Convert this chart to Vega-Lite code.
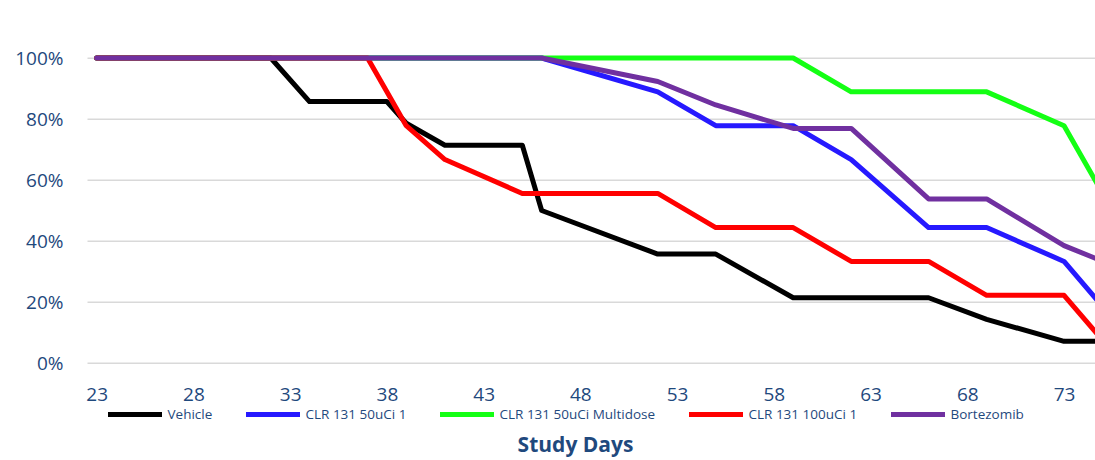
{
  "$schema": "https://vega.github.io/schema/vega-lite/v6.json",
  "width": 1008,
  "height": 320.25,
  "autosize": {"type": "none"},
  "padding": {"left": 87, "top": 42.75, "right": 0, "bottom": 96.75},
  "background": "white",
  "config": {"view": {"stroke": null}, "font": "Open Sans"},
  "data": {
    "values": [
      {"group": "Vehicle", "day": 23, "survival": 1},
      {"group": "Vehicle", "day": 32, "survival": 1},
      {"group": "Vehicle", "day": 34, "survival": 0.857},
      {"group": "Vehicle", "day": 37, "survival": 0.857},
      {"group": "Vehicle", "day": 38, "survival": 0.857},
      {"group": "Vehicle", "day": 39, "survival": 0.786},
      {"group": "Vehicle", "day": 41, "survival": 0.714},
      {"group": "Vehicle", "day": 45, "survival": 0.714},
      {"group": "Vehicle", "day": 46, "survival": 0.5},
      {"group": "Vehicle", "day": 52, "survival": 0.357},
      {"group": "Vehicle", "day": 55, "survival": 0.357},
      {"group": "Vehicle", "day": 59, "survival": 0.214},
      {"group": "Vehicle", "day": 62, "survival": 0.214},
      {"group": "Vehicle", "day": 66, "survival": 0.214},
      {"group": "Vehicle", "day": 69, "survival": 0.143},
      {"group": "Vehicle", "day": 73, "survival": 0.071},
      {"group": "Vehicle", "day": 76, "survival": 0.071},

      {"group": "CLR 131 50uCi 1", "day": 23, "survival": 1},
      {"group": "CLR 131 50uCi 1", "day": 32, "survival": 1},
      {"group": "CLR 131 50uCi 1", "day": 34, "survival": 1},
      {"group": "CLR 131 50uCi 1", "day": 37, "survival": 1},
      {"group": "CLR 131 50uCi 1", "day": 38, "survival": 1},
      {"group": "CLR 131 50uCi 1", "day": 39, "survival": 1},
      {"group": "CLR 131 50uCi 1", "day": 41, "survival": 1},
      {"group": "CLR 131 50uCi 1", "day": 45, "survival": 1},
      {"group": "CLR 131 50uCi 1", "day": 46, "survival": 1},
      {"group": "CLR 131 50uCi 1", "day": 52, "survival": 0.889},
      {"group": "CLR 131 50uCi 1", "day": 55, "survival": 0.778},
      {"group": "CLR 131 50uCi 1", "day": 59, "survival": 0.778},
      {"group": "CLR 131 50uCi 1", "day": 62, "survival": 0.667},
      {"group": "CLR 131 50uCi 1", "day": 66, "survival": 0.444},
      {"group": "CLR 131 50uCi 1", "day": 69, "survival": 0.444},
      {"group": "CLR 131 50uCi 1", "day": 73, "survival": 0.333},
      {"group": "CLR 131 50uCi 1", "day": 76, "survival": 0.111},

      {"group": "CLR 131 50uCi Multidose", "day": 23, "survival": 1},
      {"group": "CLR 131 50uCi Multidose", "day": 32, "survival": 1},
      {"group": "CLR 131 50uCi Multidose", "day": 34, "survival": 1},
      {"group": "CLR 131 50uCi Multidose", "day": 37, "survival": 1},
      {"group": "CLR 131 50uCi Multidose", "day": 38, "survival": 1},
      {"group": "CLR 131 50uCi Multidose", "day": 39, "survival": 1},
      {"group": "CLR 131 50uCi Multidose", "day": 41, "survival": 1},
      {"group": "CLR 131 50uCi Multidose", "day": 45, "survival": 1},
      {"group": "CLR 131 50uCi Multidose", "day": 46, "survival": 1},
      {"group": "CLR 131 50uCi Multidose", "day": 52, "survival": 1},
      {"group": "CLR 131 50uCi Multidose", "day": 55, "survival": 1},
      {"group": "CLR 131 50uCi Multidose", "day": 59, "survival": 1},
      {"group": "CLR 131 50uCi Multidose", "day": 62, "survival": 0.889},
      {"group": "CLR 131 50uCi Multidose", "day": 66, "survival": 0.889},
      {"group": "CLR 131 50uCi Multidose", "day": 69, "survival": 0.889},
      {"group": "CLR 131 50uCi Multidose", "day": 73, "survival": 0.778},
      {"group": "CLR 131 50uCi Multidose", "day": 76, "survival": 0.444},

      {"group": "CLR 131 100uCi 1", "day": 23, "survival": 1},
      {"group": "CLR 131 100uCi 1", "day": 32, "survival": 1},
      {"group": "CLR 131 100uCi 1", "day": 34, "survival": 1},
      {"group": "CLR 131 100uCi 1", "day": 37, "survival": 1},
      {"group": "CLR 131 100uCi 1", "day": 38, "survival": 0.889},
      {"group": "CLR 131 100uCi 1", "day": 39, "survival": 0.778},
      {"group": "CLR 131 100uCi 1", "day": 41, "survival": 0.667},
      {"group": "CLR 131 100uCi 1", "day": 45, "survival": 0.556},
      {"group": "CLR 131 100uCi 1", "day": 46, "survival": 0.556},
      {"group": "CLR 131 100uCi 1", "day": 52, "survival": 0.556},
      {"group": "CLR 131 100uCi 1", "day": 55, "survival": 0.444},
      {"group": "CLR 131 100uCi 1", "day": 59, "survival": 0.444},
      {"group": "CLR 131 100uCi 1", "day": 62, "survival": 0.333},
      {"group": "CLR 131 100uCi 1", "day": 66, "survival": 0.333},
      {"group": "CLR 131 100uCi 1", "day": 69, "survival": 0.222},
      {"group": "CLR 131 100uCi 1", "day": 73, "survival": 0.222},
      {"group": "CLR 131 100uCi 1", "day": 76, "survival": 0},

      {"group": "Bortezomib", "day": 23, "survival": 1},
      {"group": "Bortezomib", "day": 32, "survival": 1},
      {"group": "Bortezomib", "day": 34, "survival": 1},
      {"group": "Bortezomib", "day": 37, "survival": 1},
      {"group": "Bortezomib", "day": 38, "survival": 1},
      {"group": "Bortezomib", "day": 39, "survival": 1},
      {"group": "Bortezomib", "day": 41, "survival": 1},
      {"group": "Bortezomib", "day": 45, "survival": 1},
      {"group": "Bortezomib", "day": 46, "survival": 1},
      {"group": "Bortezomib", "day": 52, "survival": 0.923},
      {"group": "Bortezomib", "day": 55, "survival": 0.846},
      {"group": "Bortezomib", "day": 59, "survival": 0.769},
      {"group": "Bortezomib", "day": 62, "survival": 0.769},
      {"group": "Bortezomib", "day": 66, "survival": 0.538},
      {"group": "Bortezomib", "day": 69, "survival": 0.538},
      {"group": "Bortezomib", "day": 73, "survival": 0.385},
      {"group": "Bortezomib", "day": 76, "survival": 0.308}
    ]
  },
  "mark": {"type": "line", "strokeWidth": 5, "strokeCap": "round", "strokeJoin": "round", "clip": true},
  "encoding": {
    "x": {
      "field": "day",
      "type": "quantitative",
      "scale": {"domain": [22.5, 74.6], "nice": false, "zero": false},
      "axis": {
        "values": [23, 28, 33, 38, 43, 48, 53, 58, 63, 68, 73],
        "grid": false,
        "ticks": false,
        "domain": false,
        "labelPadding": 22,
        "labelFontSize": 19,
        "labelColor": "#1F497D",
        "title": "Study Days",
        "titleFontSize": 21,
        "titleFontWeight": "bold",
        "titleColor": "#1F497D",
        "titleX": 488,
        "titleY": 88,
        "titleAlign": "center",
        "titleBaseline": "alphabetic"
      }
    },
    "y": {
      "field": "survival",
      "type": "quantitative",
      "scale": {"domain": [0, 1.05], "nice": false},
      "axis": {
        "values": [0, 0.2, 0.4, 0.6, 0.8, 1],
        "format": ".0%",
        "title": null,
        "domain": false,
        "ticks": false,
        "labelPadding": 24,
        "labelFontSize": 19,
        "labelColor": "#1F497D",
        "gridColor": "#D9D9D9",
        "gridWidth": 1.5
      }
    },
    "color": {
      "field": "group",
      "type": "nominal",
      "scale": {
        "domain": ["Vehicle", "CLR 131 50uCi 1", "CLR 131 50uCi Multidose", "CLR 131 100uCi 1", "Bortezomib"],
        "range": ["#000000", "#2619FF", "#14FF14", "#FF0000", "#7030A0"]
      },
      "legend": {
        "orient": "none",
        "legendX": 18.5,
        "legendY": 342,
        "direction": "horizontal",
        "columns": 5,
        "title": null,
        "padding": 0,
        "symbolType": "stroke",
        "symbolSize": 2916,
        "symbolStrokeWidth": 5,
        "labelFontSize": 13.5,
        "labelColor": "#1F497D",
        "labelOffset": 3,
        "columnPadding": 23
      }
    }
  }
}
